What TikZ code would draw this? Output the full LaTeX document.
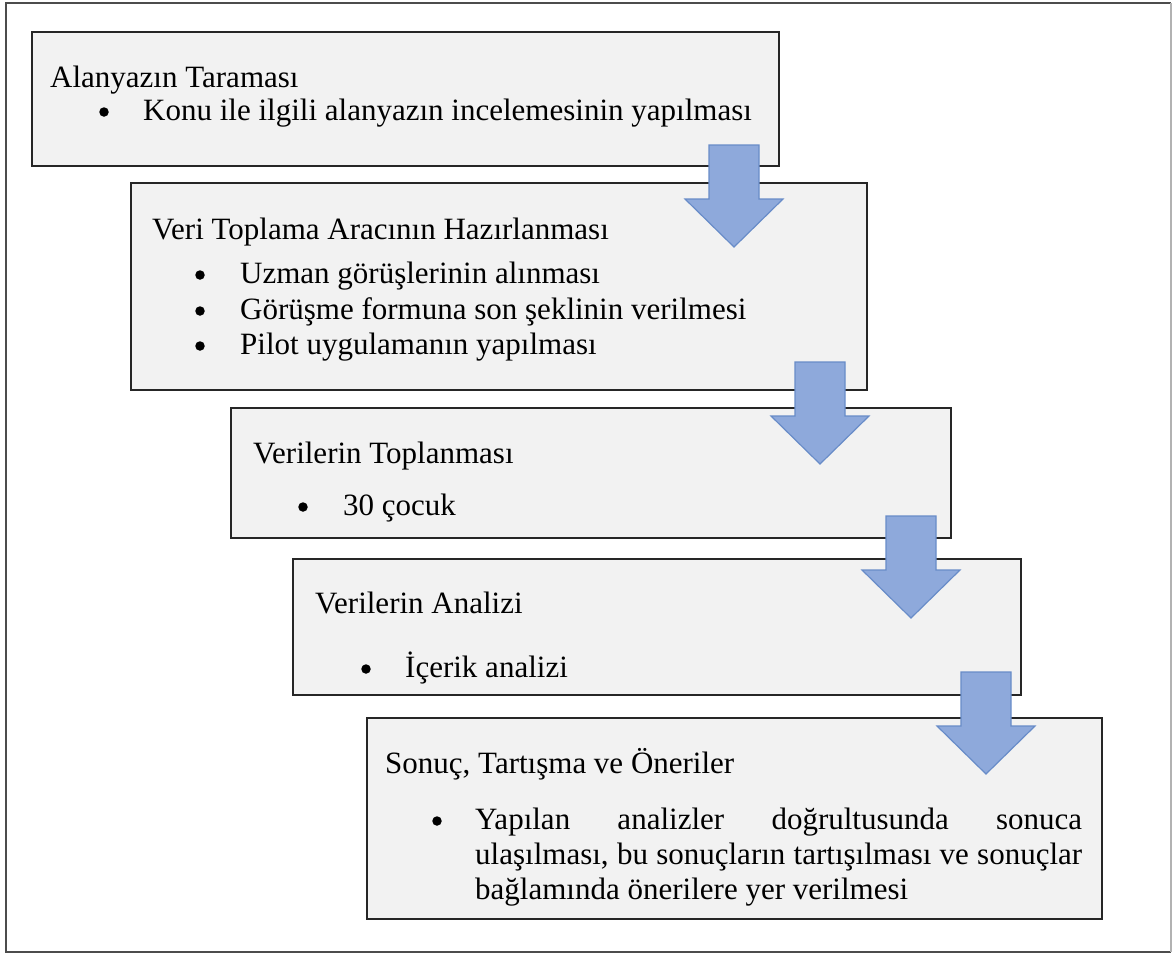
\documentclass[tikz,border=0pt]{standalone}
\usepackage{fontspec}
\setmainfont{Liberation Serif}
\definecolor{boxfill}{RGB}{242,242,242}
\definecolor{arrfill}{RGB}{142,169,219}
\definecolor{arrline}{RGB}{104,140,200}
\begin{document}
\begin{tikzpicture}[x=1pt,y=-1pt,
  stepbox/.style={draw=black!85,line width=1.5pt,fill=boxfill,anchor=north west,inner sep=0pt,outer sep=0pt},
  txt/.style={anchor=base west,inner sep=0pt,font=\fontsize{31}{36}\selectfont},
  blt/.style={circle,fill=black,inner sep=0pt,minimum size=9.5pt},
  blockarrow/.pic={\draw[fill=arrfill,draw=arrline,line width=1.2pt,line join=miter]
     (-25,0) -- (25,0) -- (25,54) -- (49,54) -- (0,102) -- (-49,54) -- (-25,54) -- cycle;}]
\useasboundingbox (0,0) rectangle (1173,954);
% outer frame
\draw[line width=2pt,black!70] (1171,952) -- (6,952) -- (6,3) -- (1171,3);
\draw[line width=1.5pt,black!30] (1171,3) -- (1171,952);
% boxes
\node[stepbox,minimum width=747pt,minimum height=134pt] (b1) at (32,32) {};
\node[stepbox,minimum width=736pt,minimum height=207pt] (b2) at (131,183) {};
\node[stepbox,minimum width=720pt,minimum height=130pt] (b3) at (231,408) {};
\node[stepbox,minimum width=728pt,minimum height=136pt] (b4) at (293,559) {};
\node[stepbox,minimum width=735pt,minimum height=201pt] (b5) at (367,718) {};
% texts box 1
\node[txt] (t1) at (50,87) {Alanyazın Taraması};
\node[blt] (t1b) at (104,112) {};
\node[txt] (t1a) at (143,120) {Konu ile ilgili alanyazın incelemesinin yapılması};
% box 2
\node[txt] (t2) at (152,239) {Veri Toplama Aracının Hazırlanması};
\node[blt] (t2b1) at (200,275) {};
\node[txt] (t2a) at (240,283) {Uzman görüşlerinin alınması};
\node[blt] (t2b2) at (200,311) {};
\node[txt] (t2c) at (240,319) {Görüşme formuna son şeklinin verilmesi};
\node[blt] (t2b3) at (200,346) {};
\node[txt] (t2d) at (240,354) {Pilot uygulamanın yapılması};
% box 3
\node[txt] (t3) at (253,463) {Verilerin Toplanması};
\node[blt] (t3b) at (303,507) {};
\node[txt] (t3a) at (343,515) {30 çocuk};
% box 4
\node[txt] (t4) at (315,613) {Verilerin Analizi};
\node[blt] (t4b) at (366,669) {};
\node[txt] (t4a) at (405,677) {İçerik analizi};
% box 5
\node[txt] (t5) at (385,773) {Sonuç, Tartışma ve Öneriler};
\node[blt] (t5b) at (437,821) {};
\node[txt] (t5a) at (475,829) {\makebox[607pt][s]{Yapılan analizler doğrultusunda sonuca}};
\node[txt] (t5c) at (475,864) {\makebox[607pt][s]{ulaşılması, bu sonuçların tartışılması ve sonuçlar}};
\node[txt] (t5d) at (475,899) {bağlamında önerilere yer verilmesi};
% arrows
\pic at (734,145) {blockarrow};
\pic at (820,362) {blockarrow};
\pic at (911,516) {blockarrow};
\pic at (986,672) {blockarrow};
\end{tikzpicture}
\end{document}
